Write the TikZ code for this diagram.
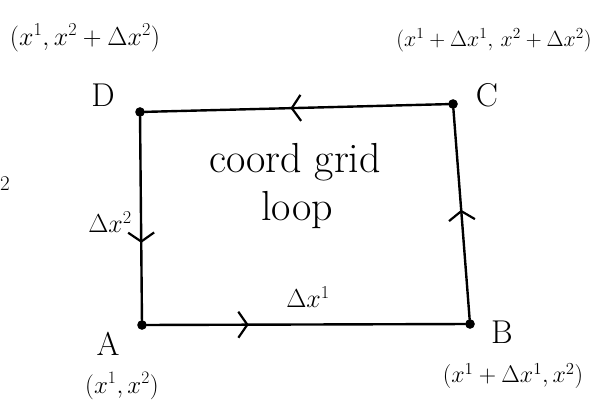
\RequirePackage{fix-cm}
\documentclass[tikz,border=0pt]{standalone}
\usetikzlibrary{arrows.meta,decorations.markings}
\begin{document}
\begin{tikzpicture}[x=1pt,y=-1pt,
  edge/.style={line width=2.4pt,line cap=round,line join=round},
  midarrow/.style={postaction={decorate},decoration={markings,
    mark=at position #1 with {\arrow[line width=2.2pt]{Straight Barb[length=9pt,width=26pt]}}}},
  corner/.style={circle,draw,fill=black,line width=1.5pt,inner sep=0pt,minimum size=8pt},
  letter/.style={font=\fontsize{33}{35}\selectfont},
  coordlbl/.style={font=\fontsize{#1}{#1}\selectfont},
  handtext/.style={font=\fontsize{42}{44}\selectfont}]
\path[use as bounding box] (0,0) rectangle (601,406);
% corners
\node[corner] (A) at (142,325) {};
\node[corner] (B) at (470,324) {};
\node[corner] (C) at (453,104) {};
\node[corner] (D) at (140,112) {};
% edges
\draw[edge,midarrow=0.32] (A) -- (B);
\draw[edge,midarrow=0.52] (B) -- (C);
\draw[edge,midarrow=0.52] (C) -- (D);
\draw[edge,midarrow=0.62] (D) -- (A);
% corner letters
\node[letter] (lA) at (108,344) {A};
\node[letter] (lB) at (502,332) {B};
\node[letter] (lC) at (487,95) {C};
\node[letter] (lD) at (103,95) {D};
% coordinates
\node[coordlbl=26] (cD) at (85,38) {$(x^1, x^2+\Delta x^2)$};
\node[coordlbl=22] (cC) at (494,40) {$(x^1+\Delta x^1,\, x^2+\Delta x^2)$};
\node[coordlbl=25] (cA) at (122,386) {$(x^1, x^2)$};
\node[coordlbl=24] (cB) at (513,376) {$(x^1+\Delta x^1, x^2)$};
% increments
\node[coordlbl=26] (dx2) at (110,222) {$\Delta x^2$};
\node[coordlbl=26] (dx1) at (308,297) {$\Delta x^1$};
% stray
\node[font=\fontsize{21}{22}\selectfont] (s2) at (5,184) {2};
% centre text
\node[handtext] (t1) at (295,162) {coord grid};
\node[handtext] (t2) at (297,210) {loop};
\end{tikzpicture}
\end{document}
